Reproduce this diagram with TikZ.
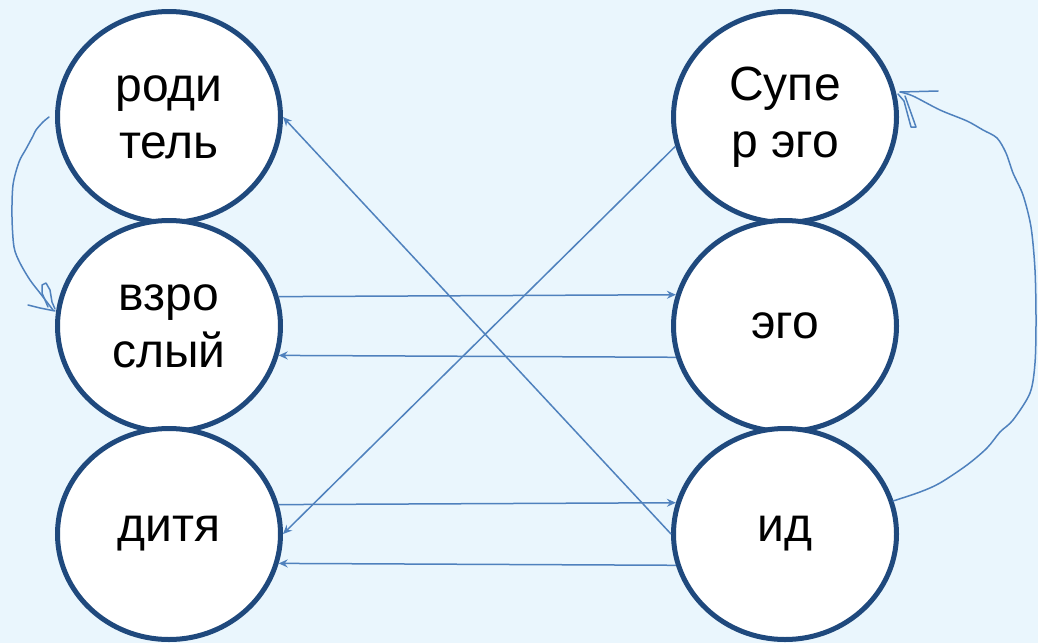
\documentclass[tikz,border=0pt]{standalone}
\usepackage{fontspec}
\setmainfont{Liberation Sans}
\usetikzlibrary{shapes.geometric,arrows.meta}
\definecolor{bg}{RGB}{234,246,253}
\definecolor{ring}{RGB}{31,73,125}
\definecolor{arrowblue}{RGB}{79,129,189}
\tikzset{
  ego/.style={ellipse, draw=ring, fill=white, line width=5pt, inner sep=0pt,
    minimum width=223pt, minimum height=211pt, align=center,
    font=\fontsize{48}{57}\selectfont, text=black},
  conn/.style={draw=arrowblue, line width=1.5pt,
    -{Stealth[length=9pt,width=8pt,inset=3pt]}},
  hand/.style={draw=arrowblue, line width=1.5pt, line cap=round, line join=round}
}
\begin{document}
\begin{tikzpicture}[x=1pt,y=-1pt]
\fill[bg] (0,0) rectangle (1038,643);
\useasboundingbox (0,0) rectangle (1038,643);
% nodes
\node[ego] (rod) at (169,117) {роди\\тель};
\node[ego] (vzr) at (169,326) {взро\\слый};
\node[ego] (dit) at (169,534) {дитя};
\node[ego] (sup) at (785,117) {Супе\\р эго};
\node[ego] (eg)  at (785,326) {эго};
\node[ego] (id)  at (785,534) {ид};
% straight connectors
\draw[conn] (vzr.15.3) -- (eg.164.7);
\draw[conn] (eg.-164.7) -- (vzr.-15.3);
\draw[conn] (dit.15.3) -- (id.164.7);
\draw[conn] (id.-164.7) -- (dit.-15.3);
\draw[conn] (id.west) -- (rod.east);
\draw[conn] (sup.195.3) -- (dit.east);
% hand-drawn left loop (родитель -> взрослый)
\coordinate (ls) at (49,117);
\coordinate (le) at (53,310);
\draw[hand] plot[smooth, tension=0.5] coordinates {(ls) (43,122) (36,130) (33,136) (26,149) (19,162) (13,185) (12,217) (14,247) (20,263) (30,280) (40,293) (le)};
\draw[hand] (48,307) -- (42,293) -- (42,285) -- (46,283) -- (50,290) -- (52,302) -- (55,309);
\draw[hand] (28,305) -- (40,308) -- (55,311);
% hand-drawn right loop (ид -> Супер эго)
\coordinate (rs) at (893,501);
\coordinate (re) at (900,92);
\draw[hand] plot[smooth, tension=0.5] coordinates {(rs) (920,492) (940,483) (967,465) (987,448) (1000,432) (1013,420) (1030,393) (1035,363) (1036,320) (1035,270) (1031,227) (1023,195) (1013,173) (1006,153) (997,138) (983,130) (967,121) (940,110) (913,96) (re)};
\draw[hand] (re) -- (938,91);
\draw[hand] (898,94) -- (904,101) -- (911,127) -- (916,127) -- (905,96);
\end{tikzpicture}
\end{document}
